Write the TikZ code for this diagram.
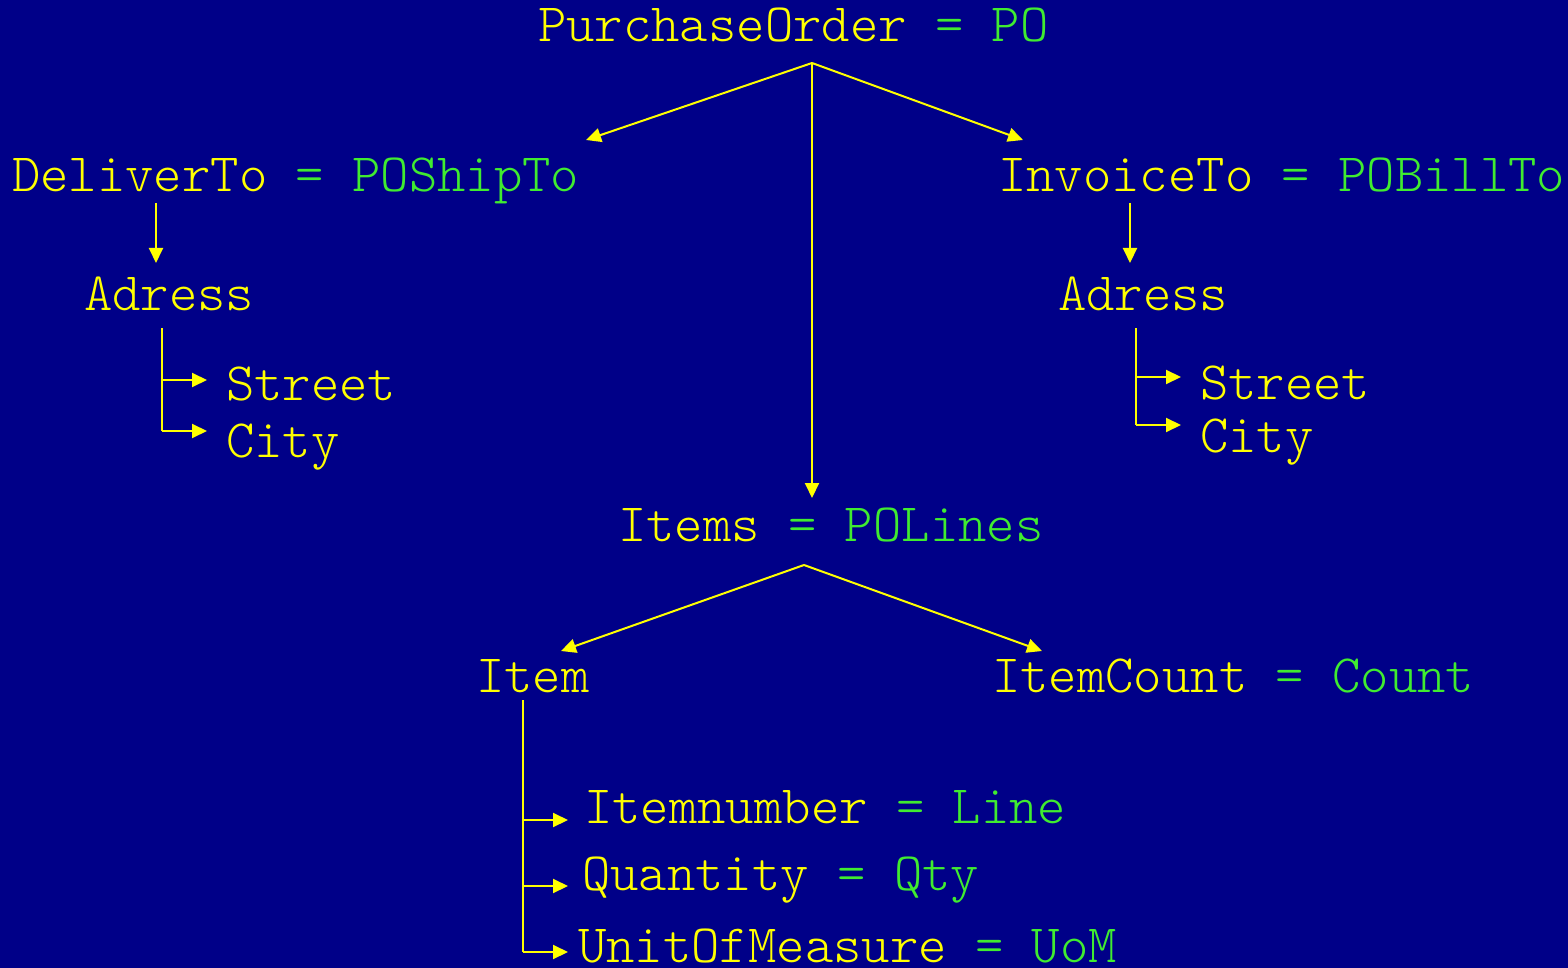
\documentclass[tikz,border=0pt]{standalone}
\usepackage{fontspec}
\usepackage{tikz}
\usetikzlibrary{arrows.meta}
\setmonofont{Latin Modern Mono Light}

\definecolor{navy}{RGB}{0,0,136}
\definecolor{fld}{RGB}{255,255,0}
\definecolor{alias}{RGB}{64,236,48}

\tikzset{
  lbl/.style={anchor=base west,inner sep=0pt,text=fld,
    font=\ttfamily\fontsize{54}{57}\selectfont},
  arr/.style={fld,line width=2pt,-{Triangle[length=15pt,width=14pt]}},
  ln/.style={fld,line width=2pt}
}
\newcommand{\al}[1]{\textcolor{alias}{#1}}

\begin{document}
\begin{tikzpicture}[x=1pt,y=-1pt]

\fill[navy] (0,0) rectangle (1568,968);
\useasboundingbox (0,0) rectangle (1568,968);

% labels
\node[lbl] (po)     at (538,42)  {PurchaseOrder \al{= PO}};
\node[lbl] (ship)   at (12,192)  {DeliverTo \al{= POShipTo}};
\node[lbl] (bill)   at (998,192) {InvoiceTo \al{= POBillTo}};
\node[lbl] (adrL)   at (84,310)  {Adress};
\node[lbl] (adrR)   at (1058,310) {Adress};
\node[lbl] (strL)   at (226,400) {Street};
\node[lbl] (cityL)  at (226,457) {City};
\node[lbl] (strR)   at (1200,399) {Street};
\node[lbl] (cityR)  at (1200,452) {City};
\node[lbl] (items)  at (618,541) {Items \al{= POLines}};
\node[lbl] (item)   at (476,692) {Item};
\node[lbl] (count)  at (992,692) {ItemCount \al{= Count}};
\node[lbl] (num)    at (584,823) {Itemnumber \al{= Line}};
\node[lbl] (qty)    at (582,890) {Quantity \al{= Qty}};
\node[lbl] (uom)    at (578,962) {UnitOfMeasure \al{= UoM}};

% forks and arrow ends
\coordinate (poFork)   at (812,63);
\coordinate (shipIn)   at (586,140);
\coordinate (billIn)   at (1023,140);
\coordinate (itemsIn)  at (812,498);
\coordinate (shipOut)  at (156,203);
\coordinate (adrLIn)   at (156,263);
\coordinate (billOut)  at (1130,203);
\coordinate (adrRIn)   at (1130,263);
\coordinate (itemsFork) at (804,565);
\coordinate (itemIn)   at (561,651);
\coordinate (countIn)  at (1042,651);

\draw[arr] (poFork) -- (shipIn);
\draw[arr] (poFork) -- (billIn);
\draw[arr] (poFork) -- (itemsIn);
\draw[arr] (shipOut) -- (adrLIn);
\draw[arr] (billOut) -- (adrRIn);
\draw[arr] (itemsFork) -- (itemIn);
\draw[arr] (itemsFork) -- (countIn);

% address brackets
\coordinate (adrLOut) at (162,328);
\coordinate (adrROut) at (1136,328);
\draw[ln] (adrLOut) -- (162,431);
\draw[arr] (162,380) -- (207,380);
\draw[arr] (162,431) -- (207,431);
\draw[ln] (adrROut) -- (1136,425);
\draw[arr] (1136,377) -- (1181,377);
\draw[arr] (1136,425) -- (1181,425);

% item bracket
\coordinate (itemOut) at (523,700);
\draw[ln] (itemOut) -- (523,952);
\draw[arr] (523,820) -- (568,820);
\draw[arr] (523,886) -- (568,886);
\draw[arr] (523,952) -- (568,952);

\end{tikzpicture}
\end{document}
